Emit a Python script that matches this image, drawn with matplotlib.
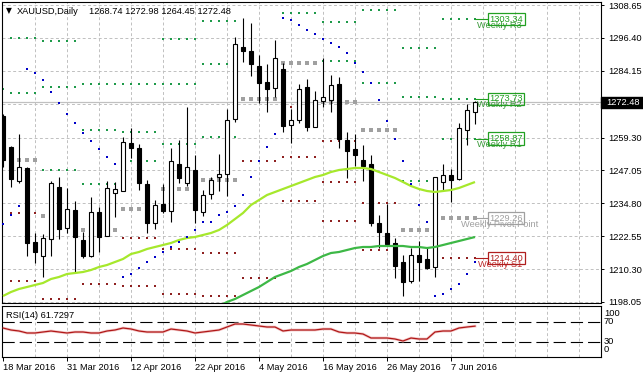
import matplotlib
matplotlib.use('Agg')
import matplotlib.pyplot as plt
from matplotlib.patches import Rectangle
from matplotlib.transforms import blended_transform_factory
import numpy as np

plt.rcParams['font.family'] = ['Liberation Sans', 'DejaVu Sans']

# ---------------- data ----------------
opens = [1267.31, 1255.77, 1243.11, 1247.95, 1220.39, 1215.18, 1221.51, 1240.87, 1225.60, 1232.31,
         1221.13, 1215.18, 1231.56, 1222.62, 1238.64, 1239.38, 1257.26, 1255.39, 1241.99, 1227.46,
         1234.54, 1231.93, 1249.44, 1242.36, 1247.20, 1231.56, 1238.26, 1244.60, 1245.71, 1266.19,
         1293.01, 1291.52, 1285.93, 1279.97, 1277.74, 1284.81, 1263.96, 1265.82, 1278.11, 1263.22,
         1272.90, 1273.27, 1279.23, 1258.37, 1255.02, 1250.93, 1249.44, 1227.46, 1223.74, 1220.02,
         1212.94, 1205.87, 1215.55, 1214.06, 1211.08, 1242.73, 1245.34, 1243.85, 1262.10, 1268.74]
highs = [1268.06, 1256.14, 1260.61, 1248.32, 1223.74, 1223.37, 1243.11, 1244.60, 1240.50, 1235.66,
         1224.11, 1237.15, 1233.42, 1243.11, 1242.73, 1259.49, 1262.84, 1256.88, 1243.48, 1236.03,
         1241.99, 1255.39, 1258.37, 1270.66, 1252.79, 1239.75, 1244.60, 1253.16, 1269.92, 1296.73,
         1303.81, 1301.94, 1290.03, 1286.68, 1295.61, 1287.05, 1269.92, 1279.23, 1281.09, 1276.62,
         1288.91, 1282.58, 1281.84, 1261.35, 1260.61, 1256.51, 1252.79, 1230.44, 1234.54, 1221.88,
         1215.55, 1218.15, 1220.76, 1218.15, 1244.60, 1249.44, 1247.57, 1264.70, 1271.78, 1272.98]
lows = [1248.32, 1240.87, 1242.36, 1215.18, 1212.57, 1207.36, 1215.18, 1221.51, 1223.74, 1209.22,
        1214.43, 1214.80, 1216.67, 1222.62, 1229.70, 1239.38, 1251.67, 1239.75, 1223.74, 1225.23,
        1231.19, 1227.84, 1242.36, 1241.24, 1227.46, 1230.07, 1236.40, 1239.38, 1237.52, 1265.08,
        1287.42, 1282.21, 1272.15, 1268.80, 1274.39, 1261.35, 1257.26, 1264.70, 1261.73, 1263.22,
        1270.66, 1268.80, 1255.39, 1244.22, 1248.69, 1243.11, 1226.35, 1218.15, 1218.90, 1206.98,
        1200.28, 1205.12, 1205.87, 1210.33, 1207.36, 1239.75, 1235.29, 1243.48, 1256.51, 1264.45]
closes = [1250.93, 1243.85, 1248.32, 1220.02, 1216.67, 1221.88, 1242.36, 1225.23, 1232.68, 1222.25,
          1215.18, 1231.56, 1222.25, 1240.50, 1240.13, 1257.63, 1255.39, 1242.36, 1227.46, 1234.17,
          1231.93, 1250.55, 1244.22, 1248.32, 1232.31, 1237.89, 1243.48, 1245.71, 1265.82, 1294.12,
          1291.52, 1286.68, 1279.60, 1277.37, 1288.91, 1263.59, 1265.82, 1277.37, 1263.22, 1273.27,
          1274.39, 1278.86, 1258.75, 1254.28, 1252.79, 1248.69, 1227.46, 1224.11, 1219.64, 1211.45,
          1205.49, 1215.55, 1212.94, 1210.71, 1244.60, 1245.34, 1243.48, 1262.84, 1269.55, 1272.48]

sar = [1227.09, 1230.44, 1233.80, 1284.81, 1283.32, 1280.72, 1276.25, 1272.15, 1268.06, 1264.70,
       1260.98, 1258.00, 1255.02, 1252.04, 1249.44, 1207.36, 1208.47, 1210.71, 1212.94, 1214.80,
       1216.67, 1218.53, 1220.39, 1222.25, 1224.86, 1227.84, 1227.84, 1230.44, 1231.56, 1233.80,
       1237.89, 1244.60, 1250.55, 1255.77, 1260.61, 1303.81, 1303.06, 1301.20, 1299.34, 1297.85,
       1295.99, 1294.50, 1293.01, 1290.77, 1287.05, 1283.70, 1279.60, 1273.27, 1265.45, 1258.75,
       1250.55, 1241.99, 1234.17, 1227.84, 1200.28, 1201.02, 1202.89, 1204.75, 1208.47, 1212.94]

ma_fast = [1200.28, 1201.77, 1202.89, 1203.63, 1204.38, 1205.12, 1206.61, 1207.36, 1208.47, 1208.84,
           1209.22, 1209.96, 1211.08, 1211.82, 1212.94, 1214.06, 1215.92, 1216.67, 1217.78, 1218.53,
           1219.27, 1220.02, 1221.13, 1221.88, 1222.25, 1223.00, 1223.74, 1224.86, 1226.72, 1228.95,
           1231.19, 1234.17, 1236.03, 1237.89, 1239.01, 1240.13, 1241.24, 1242.36, 1243.48, 1244.60,
           1245.34, 1246.46, 1247.20, 1247.57, 1247.95, 1247.95, 1247.57, 1246.46, 1245.34, 1244.22,
           1242.73, 1241.24, 1240.13, 1239.38, 1239.01, 1239.38, 1239.75, 1240.50, 1241.62, 1242.73]

ma_slow_start = 27
ma_slow = [1196.50, 1198.05, 1199.16, 1200.65, 1202.14, 1203.63, 1205.49, 1207.36, 1208.47, 1209.59,
           1211.08, 1212.20, 1213.69, 1215.18, 1216.29, 1216.67, 1217.41, 1218.15, 1218.53, 1218.53,
           1218.90, 1218.90, 1218.90, 1218.90, 1218.53, 1218.53, 1218.15, 1218.53, 1219.27, 1220.02,
           1220.76, 1221.51, 1222.25]

rsi = [58, 54, 52, 48, 48, 50, 52, 50, 48, 50,
       50, 48, 48, 52, 54, 58, 56, 52, 50, 50,
       50, 56, 54, 52, 48, 50, 52, 54, 60, 66,
       66, 64, 62, 60, 60, 52, 54, 54, 54, 54,
       56, 56, 50, 48, 48, 46, 38, 38, 38, 36,
       32, 38, 36, 36, 50, 52, 52, 58, 60, 61.7297]

# weekly pivot levels (one value per week, None = off chart)
week_first = [0, 1, 5, 10, 15, 20, 25, 30, 35, 40, 45, 50, 55]
week_last = [0, 4, 9, 14, 19, 24, 29, 34, 39, 44, 49, 54, 59]
r3 = [None, None, 1295.37, 1279.36, 1279.37, 1295.86, 1302.70, None, None, None, None, 1292.51, 1303.34]
r2 = [None, 1296.36, 1277.99, 1261.98, 1261.24, 1279.35, 1286.68, None, None, 1302.32, 1306.66, 1274.51, 1273.73]
r1 = [1277.37, 1275.88, 1247.33, 1242.12, 1250.69, 1256.76, 1259.50, None, 1305.54, 1287.80, 1279.72, 1242.98, 1258.87]
pp = [1257.12, 1250.93, 1229.95, 1224.74, 1232.56, 1240.25, 1243.48, 1273.64, 1287.17, 1272.53, 1261.97, 1224.98, 1229.26]
s1 = [None, 1231.19, 1199.29, 1204.88, 1222.01, 1217.66, 1216.30, 1250.55, 1270.53, 1258.01, 1235.03, None, 1214.40]
s2 = [None, 1205.87, None, None, 1203.88, 1201.15, 1200.28, 1206.98, 1252.16, 1242.74, 1217.28, None, None]
s3 = [None, None, None, None, None, None, None, None, 1235.52, 1228.22, None, None, None]

price_ticks = [1308.65, 1296.40, 1284.15, 1271.90, 1259.30, 1247.05, 1234.80, 1222.55, 1210.30, 1198.05]
price_tick_labels = ['1308.65', '1296.40', '1284.15', '', '1259.30', '1247.05', '1234.80',
                     '1222.55', '1210.30', '1198.05']
date_pos = [0, 8, 16, 24, 32, 40, 48, 56]
date_labels = ['18 Mar 2016', '31 Mar 2016', '12 Apr 2016', '22 Apr 2016', '4 May 2016',
               '16 May 2016', '26 May 2016', '7 Jun 2016']
symbol = 'XAUUSD,Daily'

# ---------------- layout ----------------
W, H = 643, 378
fig = plt.figure(figsize=(W / 100, H / 100), dpi=100)
fig.patch.set_facecolor('white')


def fx(p):
    return p / W


def fy(p):
    return 1 - p / H


PL, PR = 2, 601
ax = fig.add_axes([fx(PL), fy(303), fx(PR) - fx(PL), fy(2) - fy(303)])
axr = fig.add_axes([fx(PL), fy(357), fx(PR) - fx(PL), fy(306) - fy(357)])

opens = np.array(opens); highs = np.array(highs); lows = np.array(lows); closes = np.array(closes)
n = len(opens)
idx = np.arange(n)
xlo, xhi = (PL - 3) / 8.0, (PR - 3) / 8.0
ax.set_xlim(xlo, xhi)
axr.set_xlim(xlo, xhi)
ymin, ymax = 1197.67, 1309.77
ax.set_ylim(ymin, ymax)
axr.set_ylim(0, 102)
ppx = (ymax - ymin) / 301.0  # price per pixel

GRID = '#C0C0C0'
for a in (ax, axr):
    for s in a.spines.values():
        s.set_color('black')
        s.set_linewidth(0.8)
    for k in range(4, 75, 4):
        a.axvline(k, color=GRID, lw=0.7, ls=(0, (3, 2.5)), zorder=0)

# horizontal grid and right price scale
ax.set_yticks(price_ticks)
ax.set_yticklabels(price_tick_labels)
ax.yaxis.tick_right()
ax.tick_params(axis='y', length=2.5, width=0.7, pad=2.5, labelsize=6.7)
ax.set_xticks([])
for v in price_ticks:
    ax.axhline(v, color=GRID, lw=0.7, ls=(0, (3, 2.5)), zorder=0)

# bid line
ax.axhline(closes[-1], color='#C0C0C0', lw=0.9, zorder=1)

# pivot dots
GREEN = '#1E9A4A'
GRAY = '#A0A0A0'
RED = '#8E2020'
for vals, col, ms in [(r3, GREEN, 1.7), (r2, GREEN, 1.7), (r1, GREEN, 1.7), (pp, GRAY, 2.4),
                      (s1, RED, 1.7), (s2, RED, 1.7), (s3, RED, 1.7)]:
    for w, (a0, b0) in enumerate(zip(week_first, week_last)):
        v = vals[w]
        if v is None:
            continue
        xs = np.arange(a0, b0 + 1)
        ax.plot(xs, [v] * len(xs), ls='none', marker='s', ms=ms, mew=0, color=col, zorder=2)

# candles
up = closes >= opens
ax.vlines(idx, lows, highs, color='black', lw=0.8, zorder=3)
body_lo = np.minimum(opens, closes)
body_h = np.maximum(np.abs(closes - opens), 0.35)
ax.bar(idx, body_h, bottom=body_lo, width=0.58, color=['white' if u else 'black' for u in up],
       edgecolor='black', linewidth=0.8, zorder=4)

# moving averages
ax.plot(idx, ma_fast, color='#A6E82C', lw=1.6, zorder=6, solid_capstyle='butt')
ax.plot(np.arange(ma_slow_start, ma_slow_start + len(ma_slow)), ma_slow, color='#3DB846', lw=1.6,
        zorder=6, solid_capstyle='butt')

# parabolic SAR
ax.plot(idx, sar, ls='none', marker='s', ms=2.1, mew=0, color='#0000C8', zorder=7)

# labels of the last week's pivot levels
last = n - 1
box_x = 60.5
for v, name, col, tcol in [(r3[-1], 'Weekly R3', '#22A022', '#3A9A3A'),
                           (r2[-1], 'Weekly R2', '#22A022', '#3A9A3A'),
                           (r1[-1], 'Weekly R1', '#22A022', '#3A9A3A'),
                           (pp[-1], 'Weekly Pivot Point', '#A0A0A0', '#A0A0A0'),
                           (s1[-1], 'Weekly S1', '#B01E1E', '#C03030')]:
    ax.plot([last, box_x], [v, v], color=col, lw=0.8, zorder=8)
    ax.text(62.1, v - 6 * ppx, name, ha='center', va='center', fontsize=6.7, color=tcol, zorder=8)
    ax.text(box_x + 0.28, v, f'{v:.2f}', ha='left', va='center', fontsize=6.7, color=col, zorder=9,
            bbox=dict(boxstyle='square,pad=0.18', fc='none', ec=col, lw=0.9))

# current price box on the scale
bt = blended_transform_factory(ax.transAxes, ax.transData)
ax.add_patch(Rectangle((1.0, closes[-1] - 5.5 * ppx), (643 - PR) / (PR - PL), 11 * ppx,
                       transform=bt, facecolor='black', edgecolor='black', clip_on=False, zorder=10))
ax.text(1.0 + 5.0 / (PR - PL), closes[-1], f'{closes[-1]:.2f}', transform=bt, color='white',
        fontsize=6.7, va='center', ha='left', clip_on=False, zorder=11)

# header
fig.text(fx(6), fy(11), '\u25BC', fontsize=5.5, va='center', ha='left', color='black',
         family=['DejaVu Sans'])
fig.text(fx(17), fy(11), symbol, fontsize=6.7, va='center', ha='left', color='black')
fig.text(fx(89), fy(11), f'{opens[-1]:.2f} {highs[-1]:.2f} {lows[-1]:.2f} {closes[-1]:.2f}',
         fontsize=6.7, va='center', ha='left', color='black')

# RSI panel
axr.axhline(70, color='black', lw=0.8, ls=(0, (11, 4.5)), zorder=1)
axr.axhline(30, color='black', lw=0.8, ls=(0, (11, 4.5)), zorder=1)
axr.plot(idx, rsi, color='#F4C8C8', lw=2.0, zorder=2)
axr.plot(idx, rsi, color='#B01818', lw=0.9, zorder=3)
axr.set_yticks([])
axr.set_xticks(date_pos)
axr.set_xticklabels(date_labels)
for lbl in axr.get_xticklabels():
    lbl.set_ha('left')
axr.tick_params(axis='x', length=3, width=0.7, pad=1.5, labelsize=6.7)
fig.text(fx(6), fy(315), f'RSI(14) {rsi[-1]:.4f}', fontsize=6.7, va='center', ha='left')
for txt, py in [('100', 313), ('70', 322), ('30', 342), ('0', 350)]:
    fig.text(fx(604), fy(py), txt, fontsize=6.7, va='center', ha='left')

fig.savefig('out.png', dpi=100, facecolor='white')
